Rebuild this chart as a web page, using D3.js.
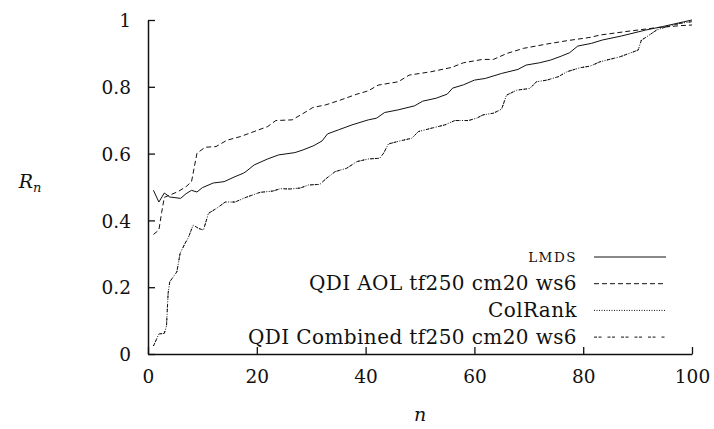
<!DOCTYPE html>
<html>
<head>
<meta charset="utf-8">
<script src="https://cdn.jsdelivr.net/npm/d3@7"></script>
<style>
  body { margin: 0; background: #fff; }
  text { font-family: "DejaVu Serif", serif; fill: #111; }
</style>
</head>
<body>
<div id="chart"></div>
<script>
// values (n, R_n)
const lmdsN = [1, 2, 3, 4, 6, 7, 8, 9, 10, 12, 14, 16, 17.5, 18, 19.5, 22, 24, 27, 28.5, 30.5, 32, 33, 35, 37.5, 40.5, 42, 43.5, 46, 49, 50.5, 53, 55, 56, 58, 60, 62, 65, 68, 69.5, 72, 74, 76, 77.5, 79, 81.5, 83.5, 87, 91.5, 94.5, 100];
const lmdsR = [0.49, 0.455, 0.482, 0.47, 0.466, 0.48, 0.49, 0.485, 0.498, 0.512, 0.516, 0.531, 0.541, 0.546, 0.566, 0.584, 0.596, 0.603, 0.611, 0.624, 0.638, 0.659, 0.671, 0.686, 0.701, 0.706, 0.723, 0.731, 0.743, 0.757, 0.766, 0.778, 0.796, 0.806, 0.82, 0.825, 0.84, 0.852, 0.865, 0.872, 0.88, 0.892, 0.902, 0.922, 0.93, 0.94, 0.952, 0.97, 0.98, 1.0];

const aolN = [1, 2, 2.5, 3, 4, 5.5, 7, 8, 9, 10.5, 12.5, 14.5, 17, 19.5, 22, 23.5, 26.5, 28.5, 30.3, 32.7, 35.3, 38.4, 40.5, 42.3, 46, 48, 52, 55.8, 58, 61.5, 63.5, 66, 69, 73.3, 77, 81.3, 83.1, 88.6, 93.5, 97.8, 100];
const aolR = [0.358, 0.371, 0.423, 0.469, 0.476, 0.486, 0.501, 0.516, 0.601, 0.619, 0.621, 0.64, 0.651, 0.666, 0.681, 0.699, 0.701, 0.72, 0.738, 0.746, 0.76, 0.778, 0.788, 0.805, 0.815, 0.835, 0.845, 0.858, 0.872, 0.882, 0.882, 0.9, 0.915, 0.928, 0.938, 0.948, 0.955, 0.967, 0.977, 0.983, 0.985];

// ColRank and QDI Combined lie on top of each other
const combN = [1, 2, 3, 3.4, 3.7, 4, 5.3, 5.9, 6.8, 7.4, 8.3, 9.3, 10.2, 11.1, 12.6, 14.2, 16, 18, 20.6, 23, 24.3, 26.1, 28, 29.5, 31.6, 32.8, 34.4, 36.5, 38.4, 40.5, 42.6, 43.3, 44.2, 46.6, 48.5, 49.7, 52.1, 54.6, 56.4, 58.9, 60.4, 61.6, 63.5, 65, 65.9, 67.8, 70.2, 71.4, 73.3, 75.4, 77, 79.4, 81.3, 83.1, 86.8, 90.1, 90.7, 91.7, 93.5, 95.3, 97.8, 100];
const combR = [0.024, 0.06, 0.062, 0.084, 0.182, 0.216, 0.246, 0.301, 0.331, 0.348, 0.386, 0.376, 0.371, 0.421, 0.436, 0.455, 0.455, 0.469, 0.484, 0.488, 0.495, 0.494, 0.497, 0.506, 0.508, 0.526, 0.546, 0.556, 0.576, 0.584, 0.586, 0.601, 0.629, 0.639, 0.646, 0.666, 0.676, 0.686, 0.699, 0.699, 0.706, 0.716, 0.721, 0.733, 0.775, 0.79, 0.795, 0.815, 0.82, 0.83, 0.845, 0.857, 0.862, 0.875, 0.89, 0.91, 0.94, 0.95, 0.97, 0.98, 0.99, 0.995];

const xTicks = [0, 20, 40, 60, 80, 100];
const yTicks = [0, 0.2, 0.4, 0.6, 0.8, 1];

const series = [
    { name: 'LMDS', n: lmdsN, r: lmdsR, dash: null },
    { name: 'QDI AOL tf250 cm20 ws6', n: aolN, r: aolR, dash: '5,3' },
    { name: 'ColRank', n: combN, r: combR, dash: '1,1.5' },
    { name: 'QDI Combined tf250 cm20 ws6', n: combN, r: combR, dash: '3,1.5,3,6' }
];

const width = 714, height = 429;
const margin = { top: 20, right: 22, bottom: 75, left: 148 };

const svg = d3.select('#chart').append('svg')
    .attr('width', width)
    .attr('height', height);

const x = d3.scaleLinear().domain([0, 100]).range([margin.left, width - margin.right]);
const y = d3.scaleLinear().domain([0, 1]).range([height - margin.bottom, margin.top]);

// axes, ticks point inwards
const xAxis = svg.append('g')
    .attr('transform', `translate(0,${height - margin.bottom})`)
    .call(d3.axisBottom(x).tickValues(xTicks).tickSizeInner(-7).tickSizeOuter(0).tickPadding(12));

const yAxis = svg.append('g')
    .attr('transform', `translate(${margin.left},0)`)
    .call(d3.axisLeft(y).tickValues(yTicks).tickFormat(d3.format('')).tickSizeInner(-7).tickSizeOuter(0).tickPadding(17));

[xAxis, yAxis].forEach(g => {
    g.select('.domain').attr('stroke', '#111').attr('stroke-width', 1.5);
    g.selectAll('.tick line').attr('stroke', '#111').attr('stroke-width', 1.3);
    g.selectAll('.tick text')
        .attr('font-family', '"DejaVu Serif", serif')
        .attr('font-size', 18.5)
        .attr('fill', '#111');
});
yAxis.selectAll('.tick text').attr('dy', '0.36em');
xAxis.selectAll('.tick text').attr('dy', '0.9em');

// axis titles
svg.append('text')
    .attr('x', 30)
    .attr('y', 188)
    .attr('text-anchor', 'middle')
    .attr('font-size', 19)
    .attr('font-style', 'italic')
    .text('R')
    .append('tspan')
    .attr('font-size', 13)
    .attr('dy', 4)
    .text('n');

svg.append('text')
    .attr('x', (margin.left + width - margin.right) / 2)
    .attr('y', 421)
    .attr('text-anchor', 'middle')
    .attr('font-size', 19)
    .attr('font-style', 'italic')
    .text('n');

// series lines
const line = d3.line()
    .x(d => x(d[0]))
    .y(d => y(d[1]));

series.forEach(s => {
    svg.append('path')
        .datum(s.n.map((v, i) => [v, s.r[i]]))
        .attr('d', line)
        .attr('fill', 'none')
        .attr('stroke', '#111')
        .attr('stroke-width', 1)
        .attr('stroke-dasharray', s.dash);
});

// legend
const legend = svg.append('g');
series.forEach((s, i) => {
    const ly = 257 + i * 26.7;
    legend.append('line')
        .attr('x1', 594).attr('x2', 666)
        .attr('y1', ly).attr('y2', ly)
        .attr('stroke', '#111')
        .attr('stroke-width', 1)
        .attr('stroke-dasharray', s.dash);
    const t = legend.append('text')
        .attr('x', 577)
        .attr('y', ly + 6.5)
        .attr('text-anchor', 'end')
        .attr('font-size', 20)
        .attr('letter-spacing', 0.4)
        .text(s.name);
    if (i === 0) t.attr('font-size', 13.5).attr('letter-spacing', 1.5).attr('y', ly + 5);
});
</script>
</body>
</html>
